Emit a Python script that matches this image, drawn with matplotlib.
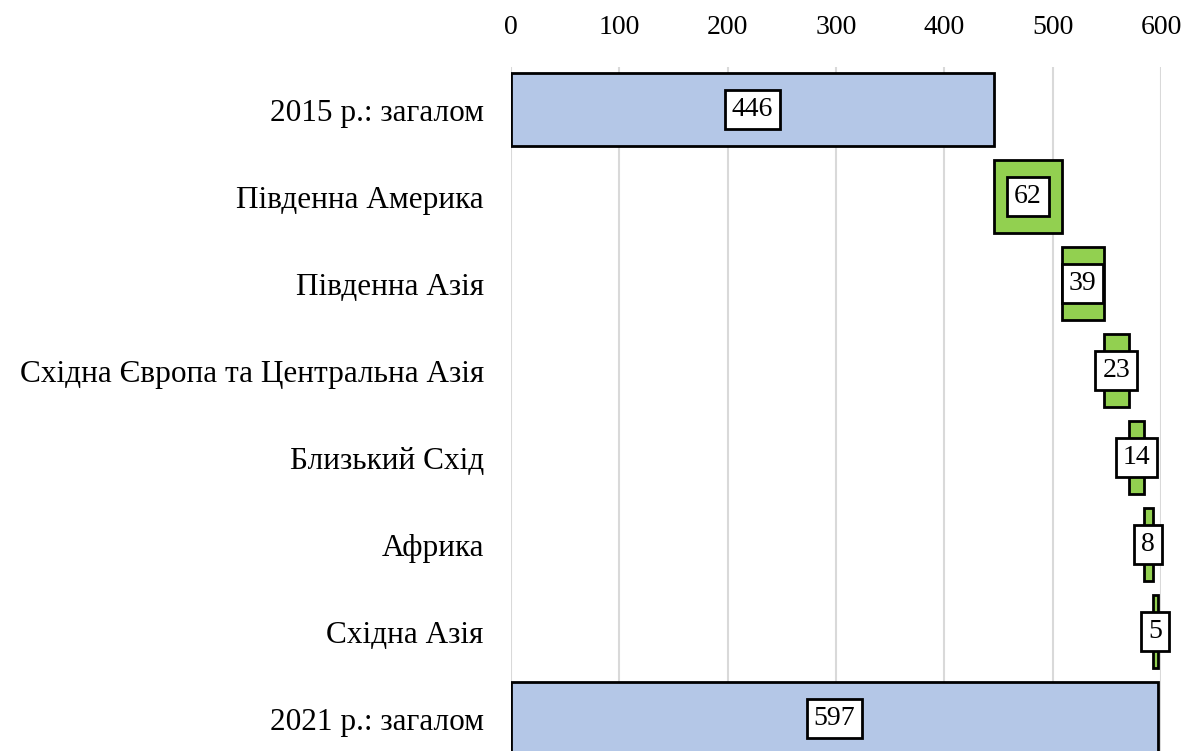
import matplotlib.pyplot as plt
import numpy as np

plt.rcParams['font.family'] = ['Liberation Serif', 'DejaVu Serif']

categories = ["2015 р.: загалом", "Південна Америка", "Південна Азія",
              "Східна Європа та Центральна Азія", "Близький Схід", "Африка",
              "Східна Азія", "2021 р.: загалом"]
start_total = 446
increments = [62, 39, 23, 14, 8, 5]
end_total = 597

blue = "#B4C7E7"
green = "#92D050"

# waterfall geometry
lefts = [0]
widths = [start_total]
colors = [blue]
run = start_total
for v in increments:
    lefts.append(run)
    widths.append(v)
    colors.append(green)
    run += v
lefts.append(0)
widths.append(end_total)
colors.append(blue)

fig = plt.figure(figsize=(11.91, 7.51), dpi=100)
ax = fig.add_axes([0.429, 0.0, 0.546, 0.911])

y = np.arange(len(categories))
ax.barh(y, widths, left=lefts, height=0.84, color=colors,
        edgecolor="black", linewidth=2, zorder=3)

for i in range(len(categories)):
    ax.text(lefts[i] + widths[i] / 2, y[i], str(widths[i]),
            ha="center", va="center", fontsize=20, zorder=5,
            bbox=dict(boxstyle="square,pad=0.25", fc="white", ec="black", lw=2))

ax.set_xlim(0, 600)
ax.set_ylim(7.37, -0.494)
ax.set_xticks(np.arange(0, 601, 100))
ax.xaxis.tick_top()
ax.set_yticks(y)
ax.set_yticklabels(categories, fontsize=22.5)
ax.tick_params(axis="both", length=0)
ax.tick_params(axis="x", labelsize=20, pad=19)
ax.tick_params(axis="y", pad=19.5)
ax.grid(axis="x", color="#D9D9D9", linewidth=1.5, zorder=0)
for s in ax.spines.values():
    s.set_visible(False)

fig.savefig("out.png", dpi=100)
